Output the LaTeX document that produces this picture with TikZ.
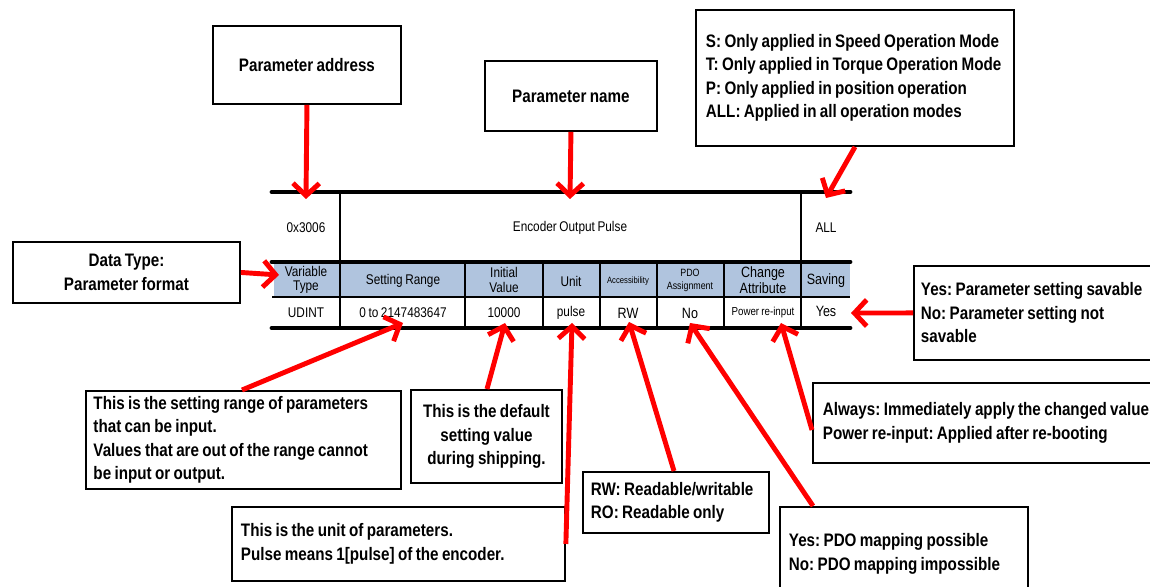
\documentclass[tikz,border=0pt]{standalone}
\usepackage{fontspec}
\setmainfont{Liberation Sans}[FakeStretch=0.84, WordSpace=0.8]
\usetikzlibrary{arrows.meta,calc}
\definecolor{headblue}{RGB}{176,196,222}
\frenchspacing

\begin{document}
\begin{tikzpicture}[x=0.02cm, y=-0.02cm,
  note/.style={draw, line width=1.1pt, anchor=north west, inner sep=0pt, font=\bfseries\fontsize{10.3}{13.4}\selectfont},
  pointer/.style={draw=red, line width=2.8pt, -{Straight Barb[length=7pt,width=15pt]}},
  rule/.style={line width=2.8pt, line cap=round},
  cell/.style={font=\fontsize{8}{8}\selectfont, align=center, inner sep=0pt}
]
\useasboundingbox (0,0) rectangle (1150,587);

\fill[headblue] (274,262) rectangle (850,297);
\draw[rule] (272,192) -- (850,192);
\draw[rule] (272,262) -- (850,262);
\draw[rule] (272,328) -- (850,328);
\draw[line width=1.6pt] (272,297) -- (850,297);
\draw[line width=1.2pt] (340,192) -- (340,328);
\draw[line width=1.2pt] (801,192) -- (801,328);
\foreach \cx in {465,543,600,657,724}
  \draw[line width=1.2pt] (\cx,262) -- (\cx,328);

\node[cell] (addrval) at (306,228) {0x3006};
\node[cell] (nameval) at (570,228) {Encoder Output Pulse};
\node[cell] (modeval) at (826,228) {ALL};

\node[cell] (typehead) at (306,280) {Variable\\Type};
\node[cell] (rangehead) at (403,281) {Setting Range};
\node[cell] (inithead) at (504,280) {Initial\\Value};
\node[cell] (unithead) at (571,281) {Unit};
\node[cell, font=\fontsize{5.2}{5.2}\selectfont] (accesshead) at (628,281) {Accessibility};
\node[cell, font=\fontsize{6}{7.4}\selectfont] (pdohead) at (690,280) {PDO\\Assignment};
\node[cell, font=\fontsize{8.5}{7.6}\selectfont] (changehead) at (763,280) {Change\\Attribute};
\node[cell, font=\fontsize{8.5}{8.5}\selectfont] (savehead) at (826,281) {Saving};

\node[cell] (typeval) at (306,313) {UDINT};
\node[cell] (rangeval) at (403,313) {0 to 2147483647};
\node[cell] (initval) at (504,313) {10000};
\node[cell] (unitval) at (571,313) {pulse};
\node[cell, font=\fontsize{8.5}{8.5}\selectfont] (accessval) at (628,313) {RW};
\node[cell, font=\fontsize{8.5}{8.5}\selectfont] (pdoval) at (690,313) {No};
\node[cell, font=\fontsize{6.6}{6.6}\selectfont] (changeval) at (763,313) {Power re-input};
\node[cell, font=\fontsize{8.5}{8.5}\selectfont] (saveval) at (826,311) {Yes};

\node[note, minimum width=3.76cm, minimum height=1.56cm] (addr) at (212,25) {Parameter address};
\node[note, minimum width=3.44cm, minimum height=1.40cm] (pname) at (484,60) {Parameter name};
\node[note, minimum width=6.36cm, minimum height=2.72cm, text width=5.96cm, align=flush left] (modes) at (695,9) {S: Only applied in Speed Operation Mode\\T: Only applied in Torque Operation Mode\\P: Only applied in position operation\\ALL: Applied in all operation modes};
\node[note, minimum width=4.54cm, minimum height=1.22cm, align=center] (dtype) at (12,241) {Data Type:\\Parameter format};
\node[note, minimum width=5.04cm, minimum height=1.88cm, text width=4.76cm, align=flush left] (saving) at (913,265) {Yes: Parameter setting savable\\No: Parameter setting not\\savable};
\node[note, minimum width=7.3cm, minimum height=1.6cm, text width=6.9cm, align=flush left] (change) at (812,382) {Always: Immediately apply the changed value\\Power re-input: Applied after re-booting};
\node[note, minimum width=6.3cm, minimum height=1.96cm, text width=6.0cm, align=flush left] (range) at (85,390) {This is the setting range of parameters\\that can be input.\\Values that are out of the range cannot\\be input or output.};
\node[note, minimum width=3.02cm, minimum height=1.86cm, align=center] (default) at (410,389) {This is the default\\setting value\\during shipping.};
\node[note, minimum width=6.66cm, minimum height=1.48cm, text width=6.3cm, align=flush left] (unitnote) at (231,506) {This is the unit of parameters.\\Pulse means 1[pulse] of the encoder.};
\node[note, minimum width=3.72cm, minimum height=1.22cm, text width=3.4cm, align=flush left] (rw) at (582,471) {RW: Readable/writable\\RO: Readable only};
\node[note, minimum width=4.96cm, minimum height=1.88cm, text width=4.6cm, align=flush left] (pdo) at (779,506) {Yes: PDO mapping possible\\No: PDO mapping impossible};

\coordinate (addrtip) at (306,199);
\coordinate (nametip) at (570,199);
\coordinate (modetip) at (826,198);
\coordinate (typetip) at (279,275);
\coordinate (savetip) at (851,313);
\coordinate (rangetip) at (403,323);
\coordinate (inittip) at (505,323);
\coordinate (unittip) at (572,323);
\coordinate (accesstip) at (629,322);
\coordinate (pdotip) at (690,323);
\coordinate (changetip) at (781,323);

\draw[pointer] (addr.south) -- (addrtip);
\draw[pointer] (pname.south) -- (nametip);
\draw[pointer] ($(modes.south west)+(160,0)$) -- (modetip);
\draw[pointer] (dtype.east) -- (typetip);
\draw[pointer] (saving.west) -- (savetip);
\draw[pointer] ($(range.north west)+(157,0)$) -- (rangetip);
\draw[pointer] ($(default.north west)+(77,0)$) -- (inittip);
\draw[pointer] (unitnote.east) -- (unittip);
\draw[pointer] ($(rw.north west)+(92,0)$) -- (accesstip);
\draw[pointer] ($(pdo.north west)+(34,0)$) -- (pdotip);
\draw[pointer] ($(change.north west)+(0,48)$) -- (changetip);

\end{tikzpicture}
\end{document}
